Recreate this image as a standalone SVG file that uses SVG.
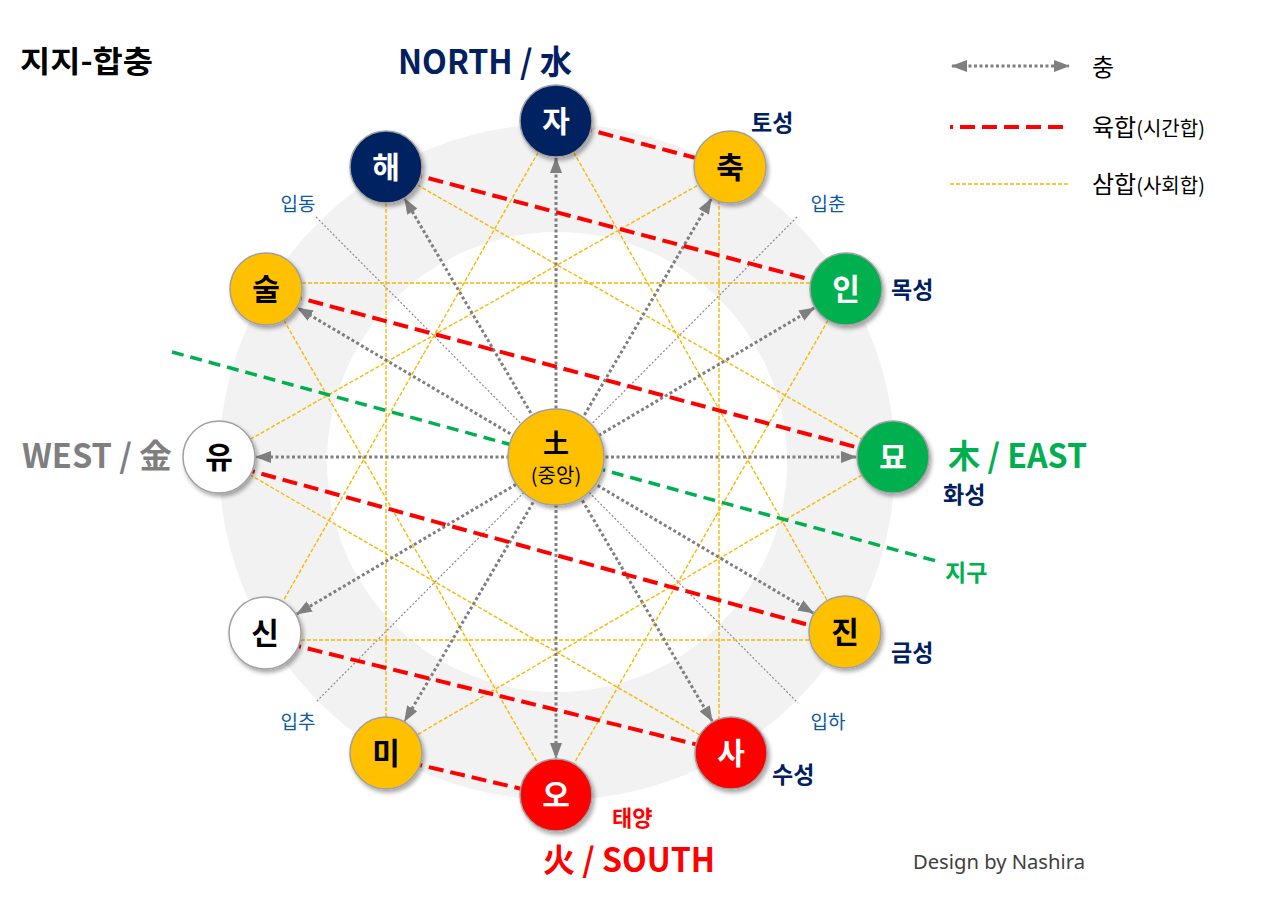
<svg xmlns="http://www.w3.org/2000/svg" width="1280" height="921" viewBox="0 0 1280 921">
<style>
.kr{font-family:"Noto Sans CJK KR","Noto Sans",sans-serif}
.nt{font-family:"Noto Sans CJK KR",sans-serif;font-weight:bold;font-size:30px;text-anchor:middle}
.lbl{font-family:"Noto Sans CJK KR",sans-serif;font-weight:bold;font-size:23px;fill:#002060}
.ip{font-family:"Noto Sans CJK KR",sans-serif;font-size:19px;fill:#0a5aa0;text-anchor:middle}
.dir{font-family:"Noto Sans CJK KR",sans-serif;font-weight:bold;font-size:33px}
.chung{stroke:#7f7f7f;stroke-width:3;stroke-dasharray:3 2.5;fill:none}
.yuk{stroke:#ff0000;stroke-width:4;stroke-dasharray:15 7;fill:none}
.sam{stroke:#f5b800;stroke-width:1.4;stroke-dasharray:4 2;fill:none}
.earth{stroke:#00b050;stroke-width:3.5;stroke-dasharray:12 7;fill:none}
.diag{stroke:#8a8a8a;stroke-width:1.2;stroke-dasharray:2 2;fill:none}
.node{stroke:#a0a0a0;stroke-width:1.5}
</style>
<defs>
<marker id="ah" markerUnits="userSpaceOnUse" markerWidth="16" markerHeight="12" refX="15" refY="6" orient="auto-start-reverse" viewBox="0 0 16 12">
<path d="M0,0 L16,6 L0,12 z" fill="#7f7f7f"/>
</marker>
<filter id="sh" x="-30%" y="-30%" width="160%" height="160%">
<feDropShadow dx="2" dy="3" stdDeviation="2.2" flood-color="#000" flood-opacity="0.35"/>
</filter>
</defs>
<rect width="1280" height="921" fill="#ffffff"/>

<g id="ring">
<circle cx="557" cy="462" r="284" fill="none" stroke="#f2f2f2" stroke-width="108"/>
</g>

<g id="connectors">
<line class="diag" x1="316" y1="217" x2="798" y2="703"/>
<line class="diag" x1="797" y1="217" x2="316" y2="702"/>
<line class="sam" x1="556" y1="121" x2="265" y2="633"/>
<line class="sam" x1="556" y1="121" x2="845" y2="632"/>
<line class="sam" x1="265" y1="640" x2="845" y2="640"/>
<line class="sam" x1="386" y1="167" x2="893" y2="457"/>
<line class="sam" x1="386" y1="167" x2="386" y2="753"/>
<line class="sam" x1="893" y1="457" x2="386" y2="753"/>
<line class="sam" x1="846" y1="289" x2="556" y2="795"/>
<line class="sam" x1="266" y1="283" x2="846" y2="283"/>
<line class="sam" x1="266" y1="289" x2="556" y2="795"/>
<line class="sam" x1="731" y1="753" x2="219" y2="457"/>
<line class="sam" x1="219" y1="457" x2="730" y2="167"/>
<line class="sam" x1="719" y1="200" x2="719" y2="720"/>
<line class="earth" x1="172" y1="352" x2="940" y2="562"/>
<line class="chung" x1="556" y1="158" x2="556" y2="758" marker-start="url(#ah)" marker-end="url(#ah)"/>
<line class="chung" x1="711.3" y1="198.9" x2="404.7" y2="721.1" marker-start="url(#ah)" marker-end="url(#ah)"/>
<line class="chung" x1="814.2" y1="307.9" x2="296.8" y2="614.1" marker-start="url(#ah)" marker-end="url(#ah)"/>
<line class="chung" x1="856" y1="457" x2="256" y2="457" marker-start="url(#ah)" marker-end="url(#ah)"/>
<line class="chung" x1="813.2" y1="613.1" x2="297.8" y2="307.9" marker-start="url(#ah)" marker-end="url(#ah)"/>
<line class="chung" x1="712.2" y1="721.1" x2="404.8" y2="198.9" marker-start="url(#ah)" marker-end="url(#ah)"/>
<line class="yuk" x1="556" y1="121" x2="730" y2="167"/>
<line class="yuk" x1="386" y1="167" x2="846" y2="289"/>
<line class="yuk" x1="266" y1="289" x2="893" y2="457"/>
<line class="yuk" x1="219" y1="462" x2="845" y2="635"/>
<line class="yuk" x1="265" y1="638" x2="731" y2="753"/>
<line class="yuk" x1="386" y1="757" x2="556" y2="797"/>
</g>

<g id="n-ja"><circle class="node" cx="556" cy="121" r="36" fill="#002060" filter="url(#sh)"/><text class="nt" x="556" y="132" fill="#fff">자</text></g>
<g id="n-chuk"><circle class="node" cx="730" cy="167" r="36" fill="#ffc000" filter="url(#sh)"/><text class="nt" x="730" y="178" fill="#000">축</text></g>
<g id="n-in"><circle class="node" cx="846" cy="289" r="36" fill="#00b050" filter="url(#sh)"/><text class="nt" x="846" y="300" fill="#fff">인</text></g>
<g id="n-myo"><circle class="node" cx="893" cy="457" r="36" fill="#00b050" filter="url(#sh)"/><text class="nt" x="893" y="468" fill="#fff">묘</text></g>
<g id="n-jin"><circle class="node" cx="845" cy="632" r="36" fill="#ffc000" filter="url(#sh)"/><text class="nt" x="845" y="643" fill="#000">진</text></g>
<g id="n-sa"><circle class="node" cx="731" cy="753" r="36" fill="#ff0000" filter="url(#sh)"/><text class="nt" x="731" y="764" fill="#fff">사</text></g>
<g id="n-o"><circle class="node" cx="556" cy="795" r="36" fill="#ff0000" filter="url(#sh)"/><text class="nt" x="556" y="806" fill="#fff">오</text></g>
<g id="n-mi"><circle class="node" cx="386" cy="753" r="36" fill="#ffc000" filter="url(#sh)"/><text class="nt" x="386" y="764" fill="#000">미</text></g>
<g id="n-sin"><circle class="node" cx="265" cy="633" r="36" fill="#ffffff" filter="url(#sh)"/><text class="nt" x="265" y="644" fill="#000">신</text></g>
<g id="n-yu"><circle class="node" cx="219" cy="457" r="36" fill="#ffffff" filter="url(#sh)"/><text class="nt" x="219" y="468" fill="#000">유</text></g>
<g id="n-sul"><circle class="node" cx="266" cy="289" r="36" fill="#ffc000" filter="url(#sh)"/><text class="nt" x="266" y="300" fill="#000">술</text></g>
<g id="n-hae"><circle class="node" cx="386" cy="167" r="36" fill="#002060" filter="url(#sh)"/><text class="nt" x="386" y="178" fill="#fff">해</text></g>
<g id="n-center"><circle class="node" cx="556" cy="457" r="48" fill="#ffc000" filter="url(#sh)"/>
<text class="nt" x="556" y="453" fill="#000" style="font-size:26px">土</text>
<text x="556" y="483" text-anchor="middle" class="kr" style="font-size:20px" fill="#000">(중앙)</text></g>

<g id="labels">
<text x="20" y="72" class="kr" style="font-size:30px;font-weight:bold" fill="#000" textLength="133" lengthAdjust="spacingAndGlyphs">지지-합충</text>
<text x="485" y="74" class="dir" fill="#002060" text-anchor="middle" textLength="174" lengthAdjust="spacingAndGlyphs">NORTH / 水</text>
<text x="948" y="468" class="dir" fill="#00b050" textLength="139" lengthAdjust="spacingAndGlyphs">木 / EAST</text>
<text x="22" y="468" class="dir" fill="#7f7f7f" textLength="150" lengthAdjust="spacingAndGlyphs">WEST / 金</text>
<text x="543" y="872" class="dir" fill="#ff0000" textLength="172" lengthAdjust="spacingAndGlyphs">火 / SOUTH</text>
<text x="751" y="131" class="lbl">토성</text>
<text x="891" y="298" class="lbl">목성</text>
<text x="943" y="503" class="lbl">화성</text>
<text x="945" y="581" class="lbl" style="fill:#00b050">지구</text>
<text x="891" y="661" class="lbl">금성</text>
<text x="772" y="783" class="lbl">수성</text>
<text x="612" y="826" class="lbl" style="fill:#ff0000;font-size:22px">태양</text>
<text x="298" y="211" class="ip">입동</text>
<text x="828" y="211" class="ip">입춘</text>
<text x="298" y="729" class="ip">입추</text>
<text x="828" y="729" class="ip">입하</text>
<text x="913" y="869" style="font-family:'Noto Sans',sans-serif;font-size:20px" fill="#404040" textLength="172" lengthAdjust="spacingAndGlyphs">Design by Nashira</text>
</g>

<g id="legend">
<line class="chung" x1="952" y1="66" x2="1069" y2="66" marker-start="url(#ah)" marker-end="url(#ah)"/>
<text x="1092" y="76" class="kr" style="font-size:24px" fill="#000">충</text>
<line class="yuk" x1="950" y1="127" x2="1070" y2="127" stroke-dashoffset="12"/>
<text x="1092" y="136" class="kr" fill="#000"><tspan style="font-size:24px">육합</tspan><tspan style="font-size:20px">(시간합)</tspan></text>
<line class="sam" x1="950" y1="184" x2="1070" y2="184"/>
<text x="1092" y="193" class="kr" fill="#000"><tspan style="font-size:24px">삼합</tspan><tspan style="font-size:20px">(사회합)</tspan></text>
</g>
</svg>
